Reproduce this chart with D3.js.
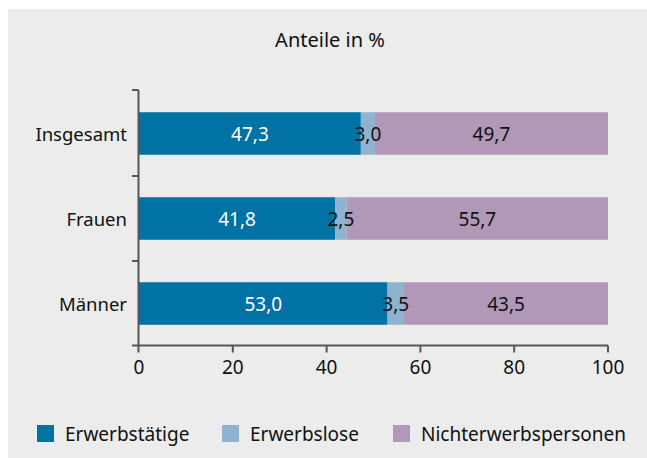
<!DOCTYPE html>
<html lang="de">
<head>
<meta charset="utf-8">
<title>Anteile in %</title>
<script src="https://d3js.org/d3.v7.min.js"></script>
<style>
    body { margin: 0; background: #fff; }
    svg text { font-family: "Noto Sans", sans-serif; fill: #111; }
</style>
</head>
<body>
<div id="chart"></div>
<script>
    // data
    var categories = ["Insgesamt", "Frauen", "Männer"];
    var seriesNames = ["Erwerbstätige", "Erwerbslose", "Nichterwerbspersonen"];
    var erwerbstaetige = [47.3, 41.8, 53.0];
    var erwerbslose = [3.0, 2.5, 3.5];
    var nichterwerbspersonen = [49.7, 55.7, 43.5];
    var xTicks = [0, 20, 40, 60, 80, 100];
    var colors = ["#0072a3", "#8fb2cf", "#b298b8"];

    var WIDTH = 647, HEIGHT = 458;

    var rows = categories.map(function (c, i) {
        return { cat: c, Erwerbstätige: erwerbstaetige[i], Erwerbslose: erwerbslose[i], Nichterwerbspersonen: nichterwerbspersonen[i] };
    });
    var stacked = d3.stack().keys(seriesNames)(rows);

    var svg = d3.select("#chart").append("svg")
        .attr("width", WIDTH)
        .attr("height", HEIGHT);

    // grey panel
    svg.append("rect")
        .attr("x", 8).attr("y", 9)
        .attr("width", WIDTH - 8).attr("height", HEIGHT - 9)
        .attr("fill", "#ebeceb");

    svg.append("text")
        .attr("x", 330).attr("y", 47)
        .attr("text-anchor", "middle")
        .attr("font-size", 20)
        .text("Anteile in %");

    var x = d3.scaleLinear().domain([0, 100]).range([139, 608]);
    var y = d3.scaleBand().domain(categories).range([91, 346])
        .paddingInner(0.5).paddingOuter(0.25);

    var axisY = 345.5, axisX = 138.5, axisColor = "#555";

    // bars
    var layer = svg.selectAll(".layer").data(stacked).enter().append("g")
        .attr("fill", function (d, i) { return colors[i]; });
    layer.selectAll("rect").data(function (d) { return d; }).enter().append("rect")
        .attr("x", function (d) { return x(d[0]); })
        .attr("y", function (d) { return y(d.data.cat); })
        .attr("width", function (d) { return x(d[1]) - x(d[0]); })
        .attr("height", y.bandwidth());

    // value labels
    var fmt = function (v) { return d3.format(".1f")(v).replace(".", ","); };
    stacked.forEach(function (s, si) {
        svg.selectAll(".lab" + si).data(s).enter().append("text")
            .attr("x", function (d) { return x((d[0] + d[1]) / 2); })
            .attr("y", function (d) { return y(d.data.cat) + y.bandwidth() / 2 + 7; })
            .attr("text-anchor", "middle")
            .attr("font-size", 19)
            .style("fill", si === 0 ? "#fff" : "#111")
            .text(function (d) { return fmt(d[1] - d[0]); });
    });

    // x axis
    svg.append("line")
        .attr("x1", 132).attr("x2", x(100))
        .attr("y1", axisY).attr("y2", axisY)
        .attr("stroke", axisColor).attr("stroke-width", 2);
    svg.selectAll(".xt").data(xTicks).enter().append("line")
        .attr("x1", function (d) { return d === 0 ? axisX : x(d); })
        .attr("x2", function (d) { return d === 0 ? axisX : x(d); })
        .attr("y1", axisY).attr("y2", axisY + 7)
        .attr("stroke", axisColor).attr("stroke-width", 2);
    svg.selectAll(".xl").data(xTicks).enter().append("text")
        .attr("x", function (d) { return x(d); })
        .attr("y", 374)
        .attr("text-anchor", "middle")
        .attr("font-size", 19)
        .text(function (d) { return d; });

    // y axis
    svg.append("line")
        .attr("x1", axisX).attr("x2", axisX)
        .attr("y1", 90).attr("y2", axisY)
        .attr("stroke", axisColor).attr("stroke-width", 2);
    var yTicks = [90].concat(categories.slice(1).map(function (c) { return y(c) - y.step() * y.paddingInner() / 2; }));
    svg.selectAll(".yt").data(yTicks).enter().append("line")
        .attr("x1", 132).attr("x2", axisX)
        .attr("y1", function (d) { return d; }).attr("y2", function (d) { return d; })
        .attr("stroke", axisColor).attr("stroke-width", 2);
    svg.selectAll(".yl").data(categories).enter().append("text")
        .attr("x", 127)
        .attr("y", function (d) { return y(d) + y.bandwidth() / 2 + 7; })
        .attr("text-anchor", "end")
        .attr("font-size", 18.5)
        .text(function (d) { return d; });

    // legend
    var legendX = [37, 222, 393];
    var leg = svg.selectAll(".leg").data(seriesNames).enter().append("g")
        .attr("transform", function (d, i) { return "translate(" + legendX[i] + ",425)"; });
    leg.append("rect")
        .attr("width", 17).attr("height", 17)
        .attr("fill", function (d, i) { return colors[i]; });
    leg.append("text")
        .attr("x", 28).attr("y", 16)
        .attr("font-size", 19)
        .text(function (d) { return d; });
</script>
</body>
</html>
